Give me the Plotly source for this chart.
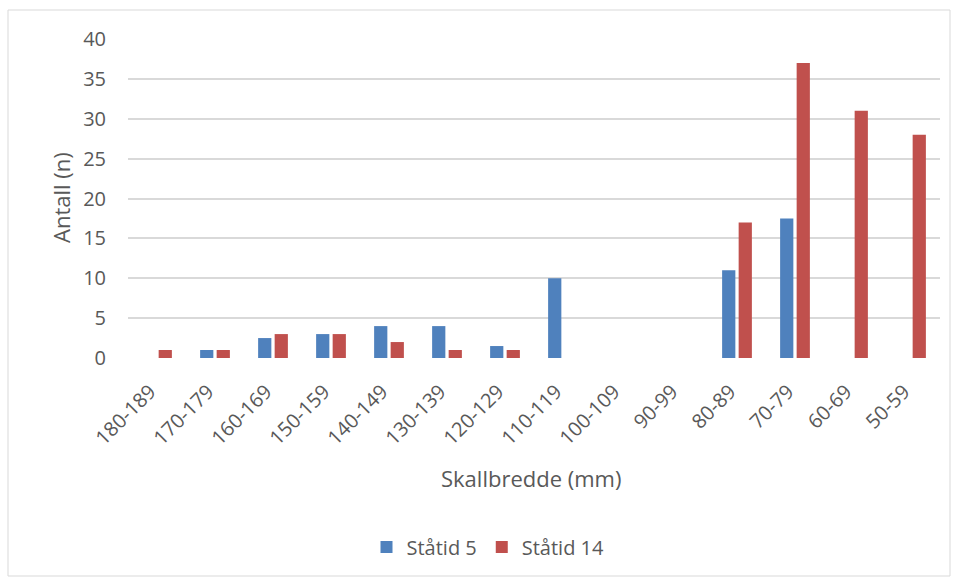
import plotly.graph_objects as go

categories = ["180-189", "170-179", "160-169", "150-159", "140-149", "130-139", "120-129",
              "110-119", "100-109", "90-99", "80-89", "70-79", "60-69", "50-59"]
statid5 = [0, 1, 2.5, 3, 4, 4, 1.5, 10, 0, 0, 11, 17.5, 0, 0]
statid14 = [1, 1, 3, 3, 2, 1, 1, 0, 0, 0, 17, 37, 31, 28]
y_ticks = [0, 5, 10, 15, 20, 25, 30, 35, 40]

W, H = 956, 578
L, R, T, B = 128, 16, 39, 220
pw, ph = W - L - R, H - T - B

def px_x(p):
    return (p - L) / pw

def px_y(p):
    return (H - B - p) / ph

FONT = "'Open Sans', sans-serif"
GREY = "#595959"

fig = go.Figure()
fig.add_trace(go.Bar(name="Ståtid 5", x=categories, y=statid5,
                     marker=dict(color="#4F81BD", line=dict(width=0))))
fig.add_trace(go.Bar(name="Ståtid 14", x=categories, y=statid14,
                     marker=dict(color="#C0504D", line=dict(width=0))))

fig.update_layout(
    width=W, height=H,
    margin=dict(l=L, r=R, t=T, b=B, autoexpand=False),
    paper_bgcolor="white", plot_bgcolor="white",
    barmode="group", bargap=0.43, bargroupgap=0.2,
    font=dict(family=FONT, color=GREY, size=19),
    showlegend=True,
    legend=dict(orientation="h", x=px_x(488), y=px_y(547), xanchor="center", yanchor="middle",
                font=dict(size=20, color=GREY), itemwidth=30, tracegroupgap=0,
                bgcolor="rgba(0,0,0,0)"),
    xaxis=dict(type="category", tickangle=-45, showgrid=False, showline=False, ticks="",
               tickfont=dict(size=20, color=GREY), ticklabelstandoff=17, ticklabelshift=-7),
    yaxis=dict(range=[0, 40], tickvals=y_ticks, showgrid=True, gridcolor="#D9D9D9", gridwidth=1.5,
               zeroline=False, showline=False, ticks="", tickfont=dict(size=20, color=GREY),
               ticklabelstandoff=21),
    annotations=[
        dict(text="Skallbredde (mm)", x=px_x(531), y=px_y(478), xref="paper", yref="paper",
             showarrow=False, xanchor="center", yanchor="middle", font=dict(size=22, color=GREY)),
        dict(text="Antall (n)", x=px_x(61), y=px_y(198), xref="paper", yref="paper",
             showarrow=False, xanchor="center", yanchor="middle", textangle=-90,
             font=dict(size=22, color=GREY)),
    ],
    shapes=[dict(type="rect", xref="paper", yref="paper",
                 x0=px_x(8), x1=px_x(950), y0=px_y(576), y1=px_y(10),
                 line=dict(color="#D9D9D9", width=1), layer="below")],
)

fig.write_html("out.html", config={"displayModeBar": False},
               post_script="document.body.style.margin='0';")
